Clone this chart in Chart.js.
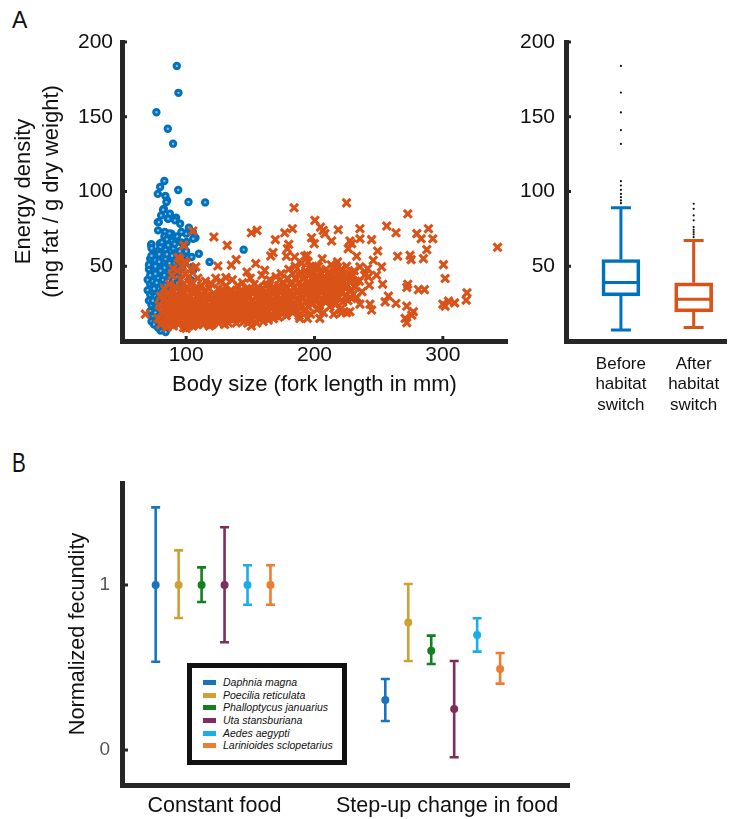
<!DOCTYPE html>
<html>
<head>
<meta charset="utf-8">
<script src="https://cdn.jsdelivr.net/npm/chart.js@4.4.1/dist/chart.umd.min.js"></script>
<style>
html,body{margin:0;padding:0;background:#fff;width:733px;height:819px;overflow:hidden;}
body{position:relative;font-family:'Liberation Sans',Arial,Helvetica,sans-serif;color:#111;}
canvas{position:absolute;}
.panel{position:absolute;font-family:'Liberation Sans',Arial,sans-serif;color:#111;white-space:nowrap;}
#legend{position:absolute;left:187px;top:663px;width:160px;height:102px;border:5px solid #111;box-sizing:border-box;background:#fff;}
.row{position:absolute;left:0;height:12px;font-style:italic;font-size:10.5px;line-height:12px;color:#111;white-space:nowrap;}
.sw{position:absolute;left:11px;top:4px;width:13px;height:5px;}
.lt{position:absolute;left:31px;top:0;}
</style>
</head>
<body>
<div class="panel" style="left:12px;top:9px;font-size:23px;line-height:23px;">A</div>
<div class="panel" style="left:12px;top:449px;font-size:28px;line-height:28px;transform:scaleX(0.74);transform-origin:0 0;">B</div>
<canvas id="cA" width="520" height="420" style="left:0;top:0;"></canvas>
<canvas id="cBox" width="223" height="420" style="left:510px;top:0;"></canvas>
<canvas id="cB" width="733" height="379" style="left:0;top:440px;"></canvas>
<div id="legend"></div>
<script>
// ---------------- DATA ----------------
// Panel A scatter: [fork length (mm), energy density]
const beforeSwitchPoints = [
[92.7,184],[94,166],[76.8,153],[85.7,142],[89.8,132],[83,107],[79.7,103],[77.9,98.4],[93.8,101],[101.8,93],
[114.8,92.7],[83.8,97],[85.2,94],[82.6,88.4],[80.5,84],[85.7,82],[92.2,82.4],[77.9,79.5],[95.3,78.4],[102.1,75.8],
[107.3,69.1],[105.2,72.9],[72.7,64],[144.8,61.1],[109.9,58.4],[118.2,52.9],[98.7,58.4],[98.2,64],[100,71.8],[104.7,49.6],
[103.9,40.7],[84.6,92.9],[82,87.8],[87.3,85.1],[86,81.8],[78.7,79.5],[91.2,80.7],[78.1,74],[83.4,72.9],[88.5,71.8],
[96.3,72.9],[105.5,68.4],[72.9,64.7],[79.4,65.1],[89.8,66.2],[100.3,66.2],[104.2,56.2],[105.5,47.3],
[73,62],[75,58],[78,60],[80,63],[82,59],[84,61],[86,64],[88,60],[90,62],[92,58],
[72,55],[74,52],[76,54],[78,50],[80,56],[82,53],[84,55],[86,51],[88,54],[90,52],[93,55],[95,51],
[71,48],[73,45],[75,47],[77,44],[79,48],[81,46],[83,49],[85,45],[87,47],[89,44],[91,48],[94,46],
[70,41],[72,38],[74,40],[76,37],[78,42],[80,39],[82,41],[84,38],[86,40],[88,37],[90,41],[93,39],
[70,34],[72,31],[74,33],[76,30],[78,35],[80,32],[82,34],[84,31],[86,33],[89,30],[92,33],
[71,27],[73,24],[75,26],[77,23],[79,28],[81,25],[83,27],[85,24],[87,26],[90,23],
[72,20],[74,17],[76,19],[78,16],[80,21],[82,18],[84,20],[86,17],[88,19],
[73,13],[75,11],[77,14],[79,10],[81,12],[83,8],[85,13],[84,6],[80,7],[78,9],
[72,44],[74,36],[76,50],[79,58],[81,66],[83,70],[85,68],[87,72],[89,67],[91,65],[93,70],[96,66],[98,62],[95,60],
[97,56],[99,53],[100,60],[97,49],[93,43],[95,36],[91,27],
[71,51],[73,57],[75,35],[77,39],[79,53],[81,29],[83,44],[85,58],[87,52],[89,57],[74,27],[76,45],[78,28],[80,47]
];
const afterSwitchPoints = [
[78,15],[79,24],[80,11],[80,30],[81,19],[82,27],[83,14],[83,35],[84,22],[85,9],[85,31],[86,17],[86,26],[87,38],[87,12],
[88,21],[88,29],[89,16],[89,44],[90,25],[90,33],[90,10],
[91,19],[91,28],[92,14],[92,36],[93,23],[93,47],[94,11],[94,30],[95,18],[95,26],[95,55],[96,13],[96,34],[96,41],[97,21],
[97,29],[97,50],[98,16],[98,38],[98,9],[99,24],[99,45],[99,32],[100,12],[100,19],[100,27],[100,52],
[101,15],[101,36],[101,22],[102,29],[102,10],[102,43],[103,18],[103,25],[104,33],[104,13],[104,48],[105,21],[105,39],
[106,16],[106,28],[106,11],[107,24],[107,35],[108,19],[108,30],[108,14],[109,26],[109,42],[110,17],[110,22],[110,33],
[111,13],[111,27],[112,20],[112,37],[113,16],[113,29],[113,11],[114,24],[114,33],[115,18],[115,40],[115,14],[116,26],
[116,21],[117,30],[117,12],[118,17],[118,35],[118,23],[119,28],[119,15],[120,20],[120,38],[120,11],
[121,25],[121,16],[122,31],[122,13],[123,21],[123,42],[124,18],[124,27],[125,35],[125,12],[126,23],[126,15],[126,30],
[127,19],[127,40],[128,26],[128,14],[129,22],[129,33],[130,17],[130,11],[130,28],
[131,24],[131,37],[132,15],[132,20],[133,30],[133,12],[134,26],[134,18],[135,34],[135,22],[136,14],[136,41],[137,27],
[137,19],[138,23],[138,32],[139,16],[139,12],[140,29],[140,21],[140,37],
[141,17],[141,25],[142,33],[142,14],[143,22],[143,28],[144,19],[144,39],[145,13],[145,26],[146,31],[146,21],[147,16],
[147,35],[148,24],[148,12],[149,29],[149,19],[150,23],[150,42],[150,15],
[151,27],[151,18],[152,33],[152,14],[153,22],[153,38],[154,25],[154,17],[155,30],[155,12],[156,20],[156,36],[157,26],
[157,15],[158,31],[158,22],[159,18],[159,44],[160,28],[160,13],[160,35],
[161,21],[161,32],[162,16],[162,26],[163,38],[163,19],[164,29],[164,14],[165,24],[165,41],[166,33],[166,18],[167,27],
[167,22],[168,36],[168,15],[169,30],[169,20],[170,25],[170,43],[170,17],
[171,31],[171,22],[172,37],[172,16],[173,27],[173,20],[174,34],[174,45],[175,24],[175,18],[176,30],[176,39],[177,21],
[177,28],[178,35],[178,17],[179,42],[179,25],[180,32],[180,20],[180,48],
[181,27],[181,38],[182,22],[182,33],[183,45],[183,19],[184,30],[184,36],[185,25],[185,50],[186,41],[186,21],[187,34],
[187,28],[188,39],[188,17],[189,31],[189,46],[190,24],[190,37],[190,52],
[191,29],[191,42],[192,35],[192,20],[193,47],[193,26],[194,32],[194,39],[195,23],[195,53],[196,37],[196,44],[197,28],
[197,18],[198,34],[198,49],[199,41],[199,25],[200,31],[200,38],[200,46],
[201,27],[201,43],[202,35],[202,21],[203,50],[203,30],[204,39],[204,24],[205,45],[205,33],[206,28],[206,55],[207,37],
[207,19],[208,42],[208,31],[209,26],[209,48],[210,35],[210,40],
[211,29],[211,46],[212,38],[212,23],[213,51],[213,33],[214,42],[214,27],[215,36],[215,18],[216,47],[216,31],[217,40],
[217,25],[218,34],[218,53],[219,29],[219,44],[220,37],[220,21],
[221,33],[221,48],[222,26],[222,40],[223,36],[224,43],[224,30],[225,38],[225,50],[226,27],[227,45],[228,34],[229,41],
[230,31],[231,47],[232,36],[233,29],[235,40],[237,33],[239,44],
[68.2,18],[105.2,73.6],[121.6,69.6],[132,64],[98.2,64],[124.7,50.2],[135.2,50.7],[139,54.4],[147.4,46.2],[150.8,72.4],
[155.2,74],[154.2,51.8],[161.2,47.3],[169.5,67.8],[167.7,59.1],[165.9,56.9],[176.8,72.4],[178.9,61.8],[179.9,64.7],
[184.1,89.1],[182.8,75.1],[178.1,56.7],[184.6,56.2],[192.4,56.7],[194.3,57.3],[200.3,80.7],[197.7,69.1],[199.8,65.1],
[204.7,76.2],[206.8,74],[208.1,71.8],[213.3,66.9],[218.5,74.4],[225,92.4],[227.6,66.9],[226.3,61.8],[228.9,65.1],
[235.4,75.1],[235.4,68.4],[232.8,56.7],[235.4,49.6],[244.5,67.8],[249.2,60.2],[245.8,54],[252.3,49.6],[248.4,44],
[241.4,48.4],[241.9,42.9],[242.7,37.3],[253.1,38],[256.3,76.9],[263.5,72.4],[264.8,56.7],[272.7,85.1],[274.5,57.3],
[275.3,54.4],[279.7,71.8],[283.1,68.4],[288.8,75.1],[287.5,61.1],[292.2,68.4],[284.9,55.1],[300.5,51.1],[301.8,41.8],
[342.6,62.7],[318.8,32.2],[318.2,27.3],[309.2,25.5],[304.4,26.7],[300,24.7],[301.8,23.3],[281,34.4],[285.7,34.4],
[272.7,38],[271.9,35.8],[271.9,23.3],[270.6,15.1],[271.9,12.2],[277.1,19.6],[275.8,17.3],[263.5,25.1],[257.6,30],
[255,26.2],[243.2,24.7],[244.5,20.7],[235.4,24.7],[228.9,28.4],[227.6,19.6],[221.1,18.9],[225,18.9],[204.1,15.1],
[194.5,15.1],[188.5,15.1],[150.8,10],[118.2,10],[100,8.4],[93.8,55.8],[89.8,48.4],[99,52.9],[107.5,49.6],[131,42.4],
[84,13],[86,21],[88,11],[89,25],[91,15],[92,22],[93,30],[94,17],[95,12],[96,22],[97,14],[98,27],[99,18],[100,35],
[101,28],[102,17],[103,13],[103,38],[104,20],[105,27],[105,10],[106,33],[107,17],[108,25],[109,11],[109,20],[110,28],
[111,20],[112,14],[112,31],[113,23],[114,19],[114,12],[115,29],[116,17],[117,23],[118,13],[119,21],[120,30],[121,12],
[122,19],[123,27],[124,14],[125,24],[126,19],[127,33],[128,20],[129,16],[130,24],[131,14],[132,29],[133,21],[134,32],
[135,17],[136,25],[137,22],[138,15],[139,27],[140,16],[141,31],[142,22],[143,17],[144,25],[145,20],[146,15],[147,27],
[148,31],[149,15],[150,33],[151,22],[152,27],[153,17],[154,34],[155,21],[156,27],[157,33],[158,16],[159,24],[160,20],
[161,27],[162,37],[163,24],[164,20],[165,30],[166,23],[167,35],[168,26],[169,24],[170,33],[171,26],[172,23],[173,41],
[174,21],[175,35],[176,25],[177,33],[178,28],[179,31],[180,26],[181,22],[182,39],[183,30],[184,24],[185,42],[186,33],
[187,23],[188,44],[189,36],[190,29],[191,35],[192,42],[193,31],[194,27],[195,44],[196,33],[197,48],[198,26],[199,35],
[200,42],[201,50],[202,28],[203,41],[204,46],[205,38],[206,33],[207,42],[208,27],[209,37],[210,45],[211,34],[212,43],
[213,28],[214,37],[215,49],[216,39],[217,33],[218,44],[219,38],[220,47],[221,41],[222,33],[223,45],[224,37],[226,42],
[228,39],[230,44],[232,40]
];
const scatterXTicks = [100, 200, 300];
const energyTicks = [50, 100, 150, 200];

// Panel A box plot
const boxPositions = [1, 2];
const boxLabels = [['Before','habitat','switch'], ['After','habitat','switch']];
const whiskerLow = [7.3, 9.1];
const quartile1 = [30.2, 19.5];
const medians = [39.1, 28.0];
const quartile3 = [54.5, 38.9];
const whiskerHigh = [89.1, 67.3];
const outliersBefore = [184, 166.2, 152.9, 141.1, 131.8, 106.9, 104, 101.1, 98.4, 96.2, 94, 92.2];
const outliersAfter = [91.8, 88.4, 84, 80.7, 76.2, 74.4, 72.9, 71.3, 69.5];

// Panel B
const species = ['Daphnia magna','Poecilia reticulata','Phalloptycus januarius','Uta stansburiana','Aedes aegypti','Larinioides sclopetarius'];
const conditionLabels = ['Constant food', 'Step-up change in food'];
const conditionTickPos = [3.56, 13.69];
const constantPos = [1, 2, 3, 4, 5, 6];
const stepUpPos = [11, 12, 13, 14, 15, 16];
const constantMean = [1, 1, 1, 1, 1, 1];
const constantLow  = [0.535, 0.80, 0.897, 0.653, 0.88, 0.88];
const constantHigh = [1.47, 1.21, 1.107, 1.35, 1.12, 1.12];
const stepUpMean = [0.303, 0.772, 0.602, 0.248, 0.697, 0.491];
const stepUpLow  = [0.176, 0.539, 0.521, -0.044, 0.596, 0.402];
const stepUpHigh = [0.43, 1.006, 0.693, 0.539, 0.798, 0.588];
const fecundityTicks = [0, 1];

// ---------------- STYLE ----------------
const FONT = "'Liberation Sans', Arial, Helvetica, sans-serif";
const AX = '#262626';
const TXT = '#111111';
const BLUE = '#0072BD';
const ORANGE = '#D95319';
const speciesColors = ['#1874BE', '#D1A034', '#12801E', '#7D2E5B', '#1AAEE8', '#EE7D31'];

const inwardTicks = {
  id: 'inwardTicks',
  afterDraw(chart, args, opts) {
    const ctx = chart.ctx;
    ctx.save();
    ctx.strokeStyle = AX;
    ctx.lineWidth = opts.width || 3;
    (opts.axes || []).forEach(a => {
      const s = chart.scales[a.id];
      s.ticks.forEach(t => {
        const p = s.getPixelForValue(t.value);
        ctx.beginPath();
        if (s.isHorizontal()) { ctx.moveTo(p, s.top); ctx.lineTo(p, s.top - a.len); }
        else { ctx.moveTo(s.right, p); ctx.lineTo(s.right + a.len, p); }
        ctx.stroke();
      });
    });
    ctx.restore();
  }
};

function fixedTicks(vals) { return s => { s.ticks = vals.map(v => ({value: v})); }; }
function axisBase() {
  return { grid: {display: false, drawTicks: false}, border: {display: true, width: 5, color: AX} };
}

// ---------------- PANEL A: scatter ----------------
new Chart(document.getElementById('cA'), {
  type: 'scatter',
  data: { datasets: [
    { label: 'Before habitat switch', data: beforeSwitchPoints.map(p => ({x: p[0], y: p[1]})),
      pointStyle: 'circle', pointRadius: 2.7, borderWidth: 3, borderColor: BLUE, backgroundColor: '#8fbbdd', order: 2 },
    { label: 'After habitat switch', data: afterSwitchPoints.map(p => ({x: p[0], y: p[1]})),
      pointStyle: 'crossRot', pointRadius: 5.6, borderWidth: 3.1, borderColor: ORANGE, backgroundColor: ORANGE, order: 1 }
  ]},
  options: {
    responsive: false, animation: false, devicePixelRatio: 1,
    layout: {padding: {top: 42, right: 13, left: 0, bottom: 0}},
    plugins: {legend: {display: false}, tooltip: {enabled: false},
      inwardTicks: {width: 3, axes: [{id: 'x', len: 5}, {id: 'y', len: 5}]}},
    scales: {
      x: Object.assign(axisBase(), {
        type: 'linear', min: 50, max: 350,
        afterBuildTicks: fixedTicks(scatterXTicks),
        afterFit: s => { s.height = 79; },
        ticks: {padding: 2, font: {family: FONT, size: 21}, color: TXT},
        title: {display: true, text: 'Body size (fork length in mm)', color: TXT,
          font: {family: FONT, size: 22, lineHeight: 1.2}, padding: {top: 0, bottom: 22.3}}
      }),
      y: Object.assign(axisBase(), {
        type: 'linear', min: 0, max: 200,
        afterBuildTicks: fixedTicks(energyTicks),
        afterFit: s => { s.width = 122; },
        ticks: {padding: 9, font: {family: FONT, size: 21}, color: TXT},
        title: {display: true, text: ['Energy density', '(mg fat / g dry weight)'], color: TXT,
          font: {family: FONT, size: 22, lineHeight: 1.3}, padding: {top: 9.5, bottom: 0}}
      })
    }
  },
  plugins: [inwardTicks]
});

// ---------------- PANEL A: box plot ----------------
const boxPlugin = {
  id: 'boxParts',
  afterDatasetsDraw(chart) {
    const ctx = chart.ctx, xs = chart.scales.x, ys = chart.scales.y;
    const cols = [BLUE, ORANGE];
    ctx.save();
    ctx.lineWidth = 3;
    boxPositions.forEach((pos, i) => {
      const x = xs.getPixelForValue(pos);
      ctx.strokeStyle = cols[i];
      const yMed = ys.getPixelForValue(medians[i]);
      const yq1 = ys.getPixelForValue(quartile1[i]), yq3 = ys.getPixelForValue(quartile3[i]);
      const yLo = ys.getPixelForValue(whiskerLow[i]), yHi = ys.getPixelForValue(whiskerHigh[i]);
      ctx.beginPath();
      ctx.moveTo(x - 18, yMed); ctx.lineTo(x + 18, yMed);
      ctx.moveTo(x, yq3); ctx.lineTo(x, yHi);
      ctx.moveTo(x, yq1); ctx.lineTo(x, yLo);
      ctx.moveTo(x - 10, yHi); ctx.lineTo(x + 10, yHi);
      ctx.moveTo(x - 10, yLo); ctx.lineTo(x + 10, yLo);
      ctx.stroke();
    });
    ctx.restore();
  }
};

new Chart(document.getElementById('cBox'), {
  type: 'bar',
  data: { datasets: [
    { type: 'bar', data: boxPositions.map((p, i) => ({x: p, y: [quartile1[i], quartile3[i]]})),
      backgroundColor: 'rgba(255,255,255,0)', borderColor: [BLUE, ORANGE], borderWidth: 3,
      borderSkipped: false, barThickness: 38, grouped: false },
    { type: 'scatter', data: outliersBefore.map(v => ({x: boxPositions[0], y: v})),
      pointRadius: 1.1, borderWidth: 0, backgroundColor: '#111' },
    { type: 'scatter', data: outliersAfter.map(v => ({x: boxPositions[1], y: v})),
      pointRadius: 1.1, borderWidth: 0, backgroundColor: '#111' }
  ]},
  options: {
    responsive: false, animation: false, devicePixelRatio: 1,
    layout: {padding: {top: 42, right: 0, left: 0, bottom: 0}},
    plugins: {legend: {display: false}, tooltip: {enabled: false},
      inwardTicks: {width: 3, axes: [{id: 'y', len: 5}]}},
    scales: {
      x: Object.assign(axisBase(), {
        type: 'linear', min: 0.245, max: 2.457, offset: false,
        afterBuildTicks: fixedTicks(boxPositions),
        afterFit: s => { s.height = 79; },
        ticks: {padding: 13, font: {family: FONT, size: 17, lineHeight: 1.2}, color: TXT,
          callback: v => boxLabels[boxPositions.indexOf(v)]}
      }),
      y: Object.assign(axisBase(), {
        type: 'linear', min: 0, max: 200,
        afterBuildTicks: fixedTicks(energyTicks),
        afterFit: s => { s.width = 56; },
        ticks: {padding: 11, font: {family: FONT, size: 21}, color: TXT}
      })
    }
  },
  plugins: [boxPlugin, inwardTicks]
});

// ---------------- PANEL B: error bars ----------------
const errorBars = {
  id: 'errorBars',
  beforeDatasetsDraw(chart) {
    const ctx = chart.ctx, ys = chart.scales.y, xs = chart.scales.x;
    ctx.save();
    ctx.lineWidth = 2.6;
    chart.data.datasets.forEach(ds => {
      ctx.strokeStyle = ds.borderColor;
      ds.data.forEach((pt, j) => {
        const x = xs.getPixelForValue(pt.x);
        const yl = ys.getPixelForValue(ds.errLow[j]), yh = ys.getPixelForValue(ds.errHigh[j]);
        ctx.beginPath();
        ctx.moveTo(x, yl); ctx.lineTo(x, yh);
        ctx.moveTo(x - 4.5, yl); ctx.lineTo(x + 4.5, yl);
        ctx.moveTo(x - 4.5, yh); ctx.lineTo(x + 4.5, yh);
        ctx.stroke();
      });
    });
    ctx.restore();
  }
};

new Chart(document.getElementById('cB'), {
  type: 'scatter',
  data: { datasets: species.map((name, i) => ({
    label: name,
    data: [{x: constantPos[i], y: constantMean[i]}, {x: stepUpPos[i], y: stepUpMean[i]}],
    errLow: [constantLow[i], stepUpLow[i]],
    errHigh: [constantHigh[i], stepUpHigh[i]],
    borderColor: speciesColors[i], backgroundColor: speciesColors[i],
    pointRadius: 3, borderWidth: 2
  }))},
  options: {
    responsive: false, animation: false, devicePixelRatio: 1,
    layout: {padding: {top: 43, right: 164, left: 0, bottom: 0}},
    plugins: {legend: {display: false}, tooltip: {enabled: false},
      inwardTicks: {width: 3, axes: [{id: 'y', len: 6}]}},
    scales: {
      x: Object.assign(axisBase(), {
        type: 'linear', min: -0.466, max: 19.0,
        afterBuildTicks: fixedTicks(conditionTickPos),
        afterFit: s => { s.height = 34; },
        ticks: {padding: 8.6, font: {family: FONT, size: 21.5}, color: TXT,
          callback: v => conditionLabels[conditionTickPos.indexOf(v)]}
      }),
      y: Object.assign(axisBase(), {
        type: 'linear', min: -0.212, max: 1.618,
        afterBuildTicks: fixedTicks(fecundityTicks),
        afterFit: s => { s.width = 122; },
        ticks: {padding: 12, font: {family: FONT, size: 19}, color: '#555555', callback: v => String(v)},
        title: {display: true, text: 'Normalized fecundity', color: TXT,
          font: {family: FONT, size: 21.7, lineHeight: 1.2}, padding: {top: 65, bottom: 0}}
      })
    }
  },
  plugins: [errorBars, inwardTicks]
});

// Legend (HTML)
const legend = document.getElementById('legend');
const rowCenters = [14.3, 27, 39.3, 52, 65.3, 77.3];
species.forEach((name, i) => {
  const r = document.createElement('div');
  r.className = 'row';
  r.style.top = (rowCenters[i] - 6) + 'px';
  r.innerHTML = '<span class="sw" style="background:' + speciesColors[i] + '"></span><span class="lt">' + name + '</span>';
  legend.appendChild(r);
});
</script>
</body>
</html>
